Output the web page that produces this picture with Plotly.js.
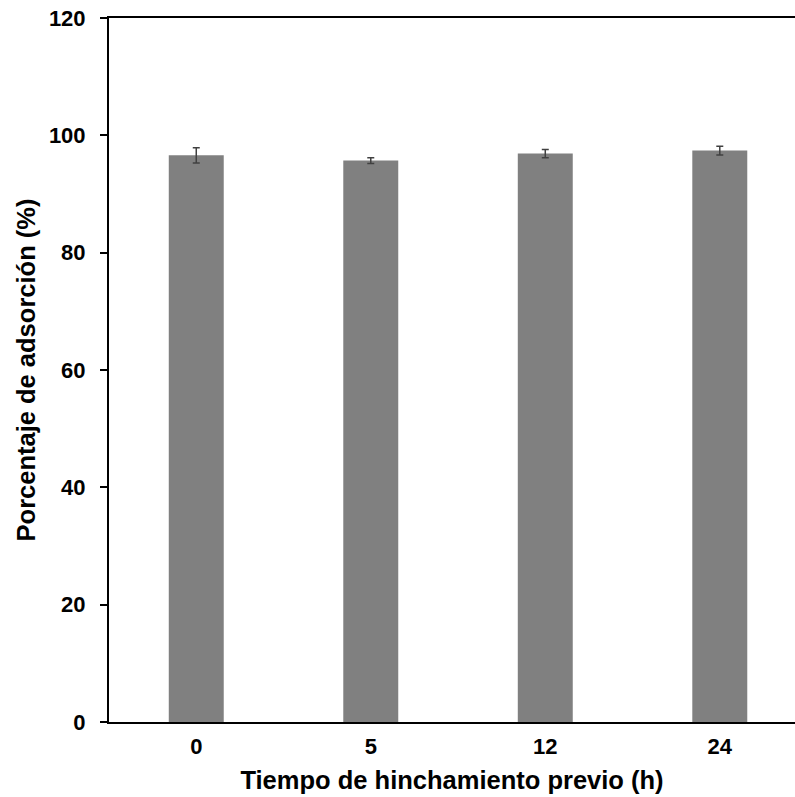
<!DOCTYPE html>
<html>
<head>
<meta charset="utf-8">
<script src="https://cdn.plot.ly/plotly-3.0.1.min.js"></script>
<style>
  html, body { margin: 0; padding: 0; background: #fff; }
  #chart { width: 795px; height: 797px; }
</style>
</head>
<body>
<div id="chart"></div>
<script>
// Pre-swelling time (h) and adsorption percentage with standard deviation
const categories = ['0', '5', '12', '24'];
const adsorption = [96.6, 95.7, 96.9, 97.4];
const errors = [1.3, 0.5, 0.7, 0.75];
const yTicks = [0, 20, 40, 60, 80, 100, 120];

const family = 'Liberation Sans, Arial, sans-serif';
const tickFont = { family: family, size: 22, color: '#000', weight: 'bold' };
const titleFont = { family: family, size: 25.5, color: '#000', weight: 'bold' };

const trace = {
  type: 'bar',
  x: categories,
  y: adsorption,
  marker: { color: '#808080', line: { width: 0 } },
  error_y: {
    type: 'data',
    array: errors,
    visible: true,
    color: '#404040',
    thickness: 1.5,
    width: 3.5
  },
  hoverinfo: 'none'
};

const layout = {
  width: 795,
  height: 797,
  margin: { l: 109, r: 0, t: 18, b: 75 },
  paper_bgcolor: '#fff',
  plot_bgcolor: '#fff',
  showlegend: false,
  bargap: 0.685,
  xaxis: {
    type: 'category',
    range: [-0.5, 3.431],
    showline: true,
    mirror: true,
    linecolor: '#000',
    linewidth: 2,
    ticks: '',
    showgrid: false,
    zeroline: false,
    tickfont: tickFont,
    ticklabelstandoff: 4,
    title: {
      text: 'Tiempo de hinchamiento previo (h)',
      font: titleFont,
      standoff: 13
    }
  },
  yaxis: {
    range: [0, 120],
    tickvals: yTicks,
    ticktext: yTicks.map(String),
    showline: true,
    linecolor: '#000',
    linewidth: 2,
    ticks: 'outside',
    ticklen: 7,
    tickwidth: 2,
    tickcolor: '#000',
    showgrid: false,
    zeroline: false,
    tickfont: tickFont,
    ticklabelstandoff: 10,
    title: {
      text: 'Porcentaje de adsorción (%)',
      font: titleFont,
      standoff: 6
    }
  }
};

Plotly.newPlot('chart', [trace], layout, { staticPlot: true, displayModeBar: false });
</script>
</body>
</html>
